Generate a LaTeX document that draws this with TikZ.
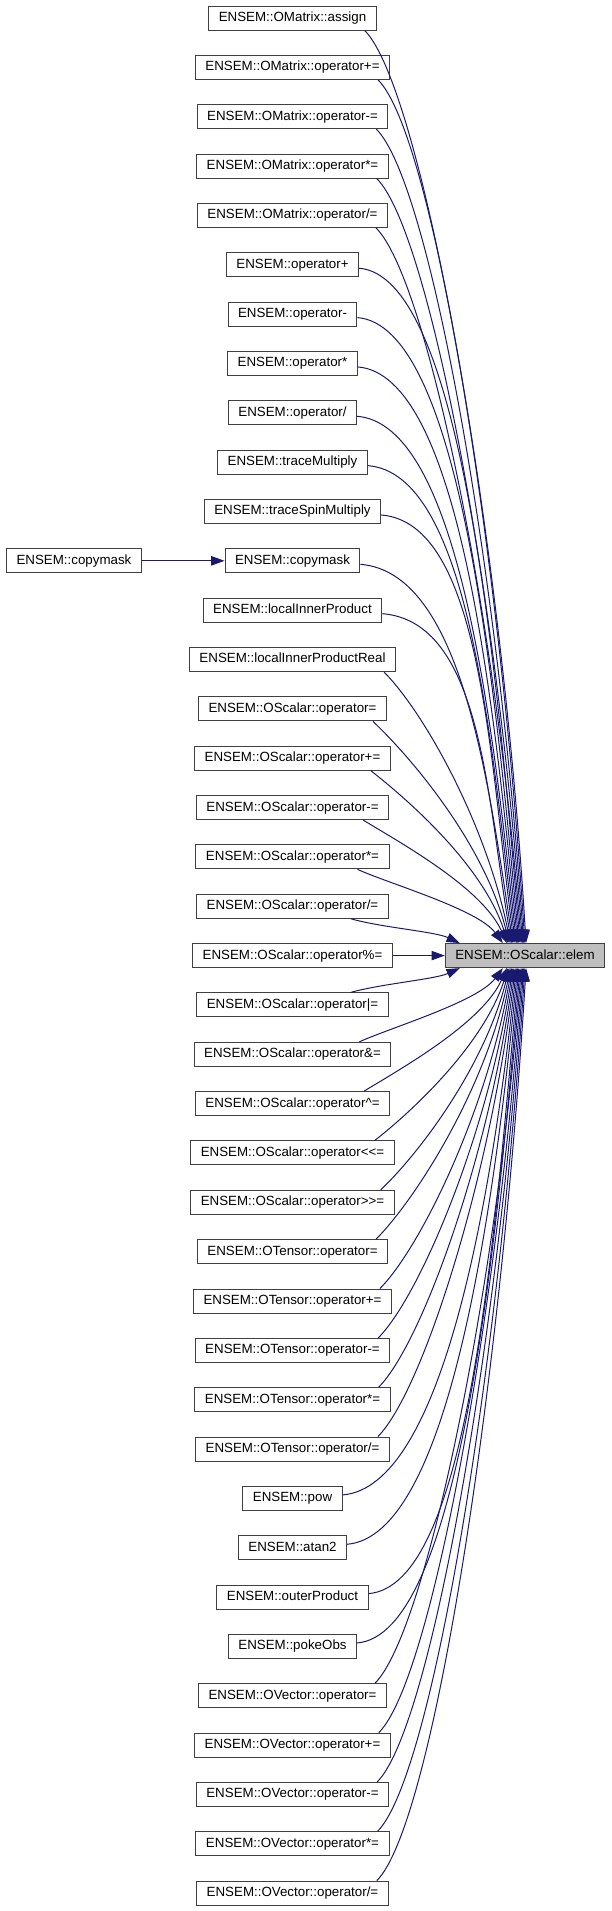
\documentclass[tikz,border=0pt]{standalone}
\usepackage{fontspec}
\setmainfont{Liberation Sans}
\usetikzlibrary{arrows.meta, positioning}
\definecolor{edgeblue}{HTML}{191970}
\definecolor{boxline}{HTML}{404040}
\definecolor{elemfill}{HTML}{BFBFBF}
\tikzset{
	fn/.style={draw=boxline, fill=white, line width=0.75pt, minimum height=18pt,
		inner xsep=7.5pt, inner ysep=0pt, text height=7.2pt, text depth=2pt,
		font=\fontsize{10}{12}\selectfont},
	cur/.style={fn, fill=elemfill},
	edge/.style={draw=edgeblue, line width=0.75pt, -{Triangle[length=10pt, width=7pt]}}
}
\begin{document}
\begin{tikzpicture}[x=0.75pt, y=-0.75pt, node distance=18.26pt]
	\useasboundingbox (0,0) rectangle (611,1911);
	\node[fn] (n1) at (292.5,18) {ENSEM::OMatrix::assign};
	\node[fn, below=of n1] (n2) {ENSEM::OMatrix::operator+=};
	\node[fn, below=of n2] (n3) {ENSEM::OMatrix::operator-=};
	\node[fn, below=of n3] (n4) {ENSEM::OMatrix::operator*=};
	\node[fn, below=of n4] (n5) {ENSEM::OMatrix::operator/=};
	\node[fn, below=of n5] (n6) {ENSEM::operator+};
	\node[fn, below=of n6] (n7) {ENSEM::operator-};
	\node[fn, below=of n7] (n8) {ENSEM::operator*};
	\node[fn, below=of n8] (n9) {ENSEM::operator/};
	\node[fn, below=of n9] (n10) {ENSEM::traceMultiply};
	\node[fn, below=of n10] (n11) {ENSEM::traceSpinMultiply};
	\node[fn, below=of n11] (n12) {ENSEM::copymask};
	\node[fn, below=of n12] (n13) {ENSEM::localInnerProduct};
	\node[fn, below=of n13] (n14) {ENSEM::localInnerProductReal};
	\node[fn, below=of n14] (n15) {ENSEM::OScalar::operator=};
	\node[fn, below=of n15] (n16) {ENSEM::OScalar::operator+=};
	\node[fn, below=of n16] (n17) {ENSEM::OScalar::operator-=};
	\node[fn, below=of n17] (n18) {ENSEM::OScalar::operator*=};
	\node[fn, below=of n18] (n19) {ENSEM::OScalar::operator/=};
	\node[fn, below=of n19] (n20) {ENSEM::OScalar::operator\%=};
	\node[fn, below=of n20] (n21) {ENSEM::OScalar::operator|=};
	\node[fn, below=of n21] (n22) {ENSEM::OScalar::operator\&=};
	\node[fn, below=of n22] (n23) {ENSEM::OScalar::operator\textasciicircum=};
	\node[fn, below=of n23] (n24) {ENSEM::OScalar::operator<{}<=};
	\node[fn, below=of n24] (n25) {ENSEM::OScalar::operator>{}>=};
	\node[fn, below=of n25] (n26) {ENSEM::OTensor::operator=};
	\node[fn, below=of n26] (n27) {ENSEM::OTensor::operator+=};
	\node[fn, below=of n27] (n28) {ENSEM::OTensor::operator-=};
	\node[fn, below=of n28] (n29) {ENSEM::OTensor::operator*=};
	\node[fn, below=of n29] (n30) {ENSEM::OTensor::operator/=};
	\node[fn, below=of n30] (n31) {ENSEM::pow};
	\node[fn, below=of n31] (n32) {ENSEM::atan2};
	\node[fn, below=of n32] (n33) {ENSEM::outerProduct};
	\node[fn, below=of n33] (n34) {ENSEM::pokeObs};
	\node[fn, below=of n34] (n35) {ENSEM::OVector::operator=};
	\node[fn, below=of n35] (n36) {ENSEM::OVector::operator+=};
	\node[fn, below=of n36] (n37) {ENSEM::OVector::operator-=};
	\node[fn, below=of n37] (n38) {ENSEM::OVector::operator*=};
	\node[fn, below=of n38] (n39) {ENSEM::OVector::operator/=};
	\node[fn, left=62pt of n12] (mask0) {ENSEM::copymask};
	\node[cur, right=39pt of n20] (elem) {ENSEM::OScalar::elem};

	\draw[edge] (mask0) -- (n12);
	\draw[edge] (n20) -- (elem);
	% callers above (second value: 1 = short box, leaves from its right side)
	\foreach \i/\nar in {1/0,2/0,3/0,4/0,5/0,6/1,7/1,8/1,9/1,10/1,11/1,12/1,13/1,14/0,15/0,16/0,17/0,18/0,19/0} {
		\pgfmathsetmacro\nn{20-\i}
		\pgfmathsetmacro\dd{914-(\i-1)*49.35}
		\pgfmathsetmacro\xs{\nar==1 ? 0 : -max(12,44-6*\nn)}
		\pgfmathsetmacro\ys{\nar==1 ? 9 : 0}
		\pgfmathsetmacro\ca{\nar==1 ? 100 : 30+0.03*\dd}
		\pgfmathsetmacro\cv{\nar==1 ? 8 : min(1.0,0.2+\dd/300)*\ca}
		\pgfmathsetmacro\cb{0.45*\dd}
		\pgfmathsetmacro\off{\nn==1 ? 15 : (\nn==2 ? 58 : 62+(\nn-3)*1.2)}
		\draw[edge] ([xshift=\xs*0.75pt, yshift=\ys*0.75pt]n\i.south east) .. controls +(\ca,\cv) and +(-25,-\cb) .. ([xshift=\off*0.75pt]elem.north west);
	}
	% callers below
	\foreach \i/\nar in {21/0,22/0,23/0,24/0,25/0,26/0,27/0,28/0,29/0,30/0,31/1,32/1,33/1,34/1,35/0,36/0,37/0,38/0,39/0} {
		\pgfmathsetmacro\nn{\i-20}
		\pgfmathsetmacro\dd{(\i-1)*49.35-962}
		\pgfmathsetmacro\xs{\nar==1 ? 0 : -max(12,44-6*\nn)}
		\pgfmathsetmacro\ys{\nar==1 ? -9 : 0}
		\pgfmathsetmacro\ca{\nar==1 ? 100 : 30+0.03*\dd}
		\pgfmathsetmacro\cv{\nar==1 ? 8 : min(1.0,0.2+\dd/300)*\ca}
		\pgfmathsetmacro\cb{0.45*\dd}
		\pgfmathsetmacro\off{\nn==1 ? 15 : (\nn==2 ? 58 : 62+(\nn-3)*1.2)}
		\draw[edge] ([xshift=\xs*0.75pt, yshift=\ys*0.75pt]n\i.north east) .. controls +(\ca,-\cv) and +(-25,\cb) .. ([xshift=\off*0.75pt]elem.south west);
	}
\end{tikzpicture}
\end{document}
